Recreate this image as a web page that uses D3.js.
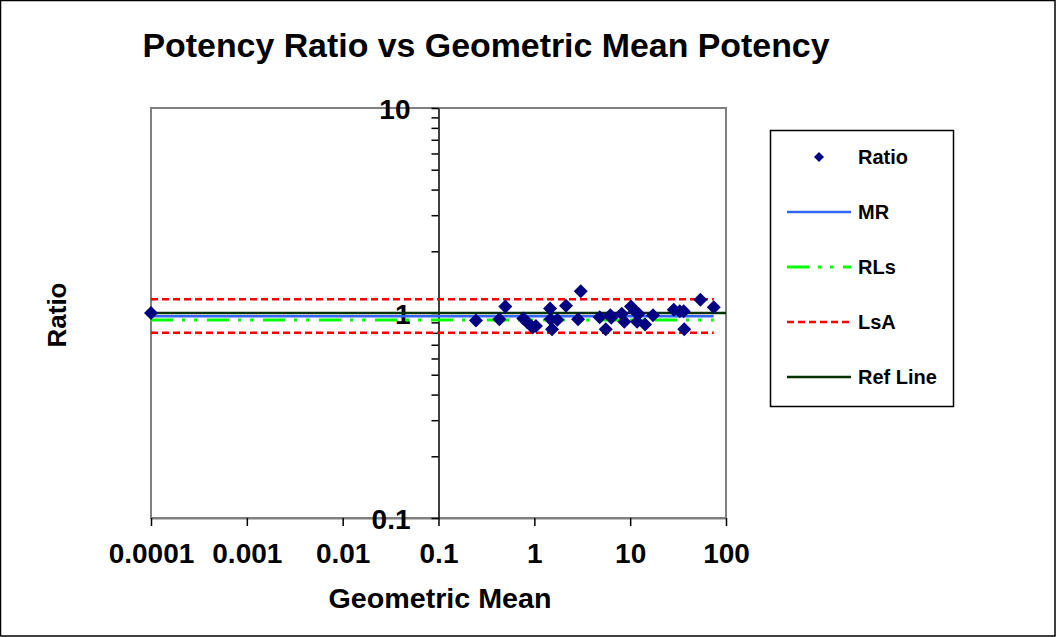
<!DOCTYPE html>
<html>
<head>
<meta charset="utf-8">
<script src="https://d3js.org/d3.v7.min.js"></script>
<style>
  body { margin: 0; background: #fff; }
  svg text { font-family: "Liberation Sans", Arial, sans-serif; font-weight: bold; fill: #000; }
</style>
</head>
<body>
<div id="chart"></div>
<script>

// values
var geoMean = [0.0001, 0.246, 0.432, 0.498, 0.767, 0.832, 0.96, 1.04, 1.46, 1.48, 1.53, 1.74, 2.14, 2.86, 3.05,
  4.81, 5.56, 6.21, 6.35, 8.17, 8.69, 10.2, 11.2, 11.8, 12.2, 14.3, 17.3, 28.5, 32.9, 36.2, 36.7, 54.0, 74.5];
var ratio = [1.0, 0.919, 0.933, 1.075, 0.940, 0.906, 0.85, 0.864, 1.052, 0.933, 0.834, 0.927, 1.084, 0.933, 1.277,
  0.954, 0.834, 0.976, 0.947, 0.991, 0.906, 1.075, 1.020, 0.906, 0.991, 0.879, 0.976, 1.036, 1.020, 1.020, 0.834, 1.159, 1.067];

var lineX = [0.0001, 74.5];
var refX = [0.0001, 100];
var mrValue = 0.965;
var rlsValue = 0.925;
var lsaUpper = 1.167;
var lsaLower = 0.80;
var refValue = 1;

var xTicks = [0.0001, 0.001, 0.01, 0.1, 1, 10, 100];
var xTickLabels = ["0.0001", "0.001", "0.01", "0.1", "1", "10", "100"];
var yMajor = [0.1, 1, 10];
var yTickLabels = ["0.1", "1", "10"];
var yMinor = [0.2, 0.3, 0.4, 0.5, 0.6, 0.7, 0.8, 0.9, 2, 3, 4, 5, 6, 7, 8, 9];

var legendNames = ["Ratio", "MR", "RLs", "LsA", "Ref Line"];

var width = 1056, height = 637;

var svg = d3.select("#chart").append("svg")
  .attr("width", width)
  .attr("height", height);

// outer border
svg.append("rect")
  .attr("x", 0.5).attr("y", 0.5)
  .attr("width", width - 1.5).attr("height", height - 1.5)
  .attr("fill", "#fff")
  .attr("stroke", "#000")
  .attr("stroke-width", 1.5);

var x = d3.scaleLog().domain([0.0001, 100]).range([151, 726]);
var y = d3.scaleLog().domain([0.1, 10]).range([518, 108]);

// plot frame
svg.append("rect")
  .attr("x", x(0.0001)).attr("y", y(10))
  .attr("width", x(100) - x(0.0001)).attr("height", y(0.1) - y(10))
  .attr("fill", "none")
  .attr("stroke", "#808080")
  .attr("stroke-width", 2);

// x axis along the bottom
var xAxis = d3.axisBottom(x)
  .tickValues(xTicks)
  .tickSize(8)
  .tickSizeOuter(0)
  .tickPadding(17)
  .tickFormat(function (d, i) { return xTickLabels[i]; });

var gx = svg.append("g")
  .attr("transform", "translate(0," + y(0.1) + ")")
  .call(xAxis);
gx.select(".domain").attr("stroke", "#808080").attr("stroke-width", 2);
gx.selectAll(".tick line").attr("stroke", "#000").attr("stroke-width", 1.5);
gx.selectAll(".tick text").style("font-size", "28px").attr("fill", "#000");

// y axis crosses at x = 0.1
var yAxis = d3.axisLeft(y)
  .tickValues(yMajor.concat(yMinor))
  .tickSize(7)
  .tickSizeOuter(0)
  .tickPadding(21)
  .tickFormat(function (d) {
    var k = yMajor.indexOf(d);
    return k > -1 ? yTickLabels[k] : "";
  });

var gy = svg.append("g")
  .attr("transform", "translate(" + x(0.1) + ",0)")
  .call(yAxis);
gy.select(".domain").attr("stroke", "#000").attr("stroke-width", 1.5);
gy.selectAll(".tick line").attr("stroke", "#000").attr("stroke-width", 1.5);
gy.selectAll(".tick text").style("font-size", "28px").attr("fill", "#000").attr("dy", "0.36em");

// horizontal reference lines
var line = d3.line()
  .x(function (d) { return x(d[0]); })
  .y(function (d) { return y(d[1]); });

function hLine(xs, value, colour, w, dash) {
  var p = svg.append("path")
    .datum(xs.map(function (v) { return [v, value]; }))
    .attr("d", line)
    .attr("fill", "none")
    .attr("stroke", colour)
    .attr("stroke-width", w);
  if (dash) p.attr("stroke-dasharray", dash);
  return p;
}

hLine(lineX, lsaUpper, "#FF0000", 2.5, "7,4");
hLine(lineX, lsaLower, "#FF0000", 2.5, "7,4");
hLine(lineX, rlsValue, "#00FF00", 3, "22,9,3,9,3,10");
hLine(lineX, mrValue, "#3366FF", 2.5);
hLine(refX, refValue, "#003300", 2.5);

// points
function diamond(r) {
  return "M0," + (-r) + "L" + r + ",0L0," + r + "L" + (-r) + ",0Z";
}

svg.append("g").selectAll("path")
  .data(geoMean)
  .enter().append("path")
  .attr("d", diamond(7))
  .attr("transform", function (d, i) { return "translate(" + x(d) + "," + y(ratio[i]) + ")"; })
  .attr("fill", "#000080");

// titles (the original fonts are narrow, so fit them to the widths seen)
svg.append("text")
  .attr("x", 486).attr("y", 57)
  .attr("text-anchor", "middle")
  .attr("textLength", 687)
  .attr("lengthAdjust", "spacingAndGlyphs")
  .style("font-size", "33px")
  .text("Potency Ratio vs Geometric Mean Potency");

svg.append("text")
  .attr("x", 440).attr("y", 608)
  .attr("text-anchor", "middle")
  .attr("textLength", 223)
  .attr("lengthAdjust", "spacingAndGlyphs")
  .style("font-size", "28px")
  .text("Geometric Mean");

svg.append("text")
  .attr("transform", "translate(66,315) rotate(-90)")
  .attr("text-anchor", "middle")
  .style("font-size", "26px")
  .text("Ratio");

// legend
var legend = svg.append("g");
legend.append("rect")
  .attr("x", 770.5).attr("y", 130.5)
  .attr("width", 183).attr("height", 276)
  .attr("fill", "#fff")
  .attr("stroke", "#000")
  .attr("stroke-width", 1.5);

var legendStyles = [
  { colour: "#000080" },
  { colour: "#3366FF", w: 2.5 },
  { colour: "#00FF00", w: 3, dash: "22,9,3,9,3,10" },
  { colour: "#FF0000", w: 2.5, dash: "7,4" },
  { colour: "#003300", w: 2.5 }
];

legendNames.forEach(function (name, i) {
  var cy = 157 + i * 55;
  var st = legendStyles[i];
  if (i === 0) {
    legend.append("path")
      .attr("d", diamond(5))
      .attr("transform", "translate(819," + cy + ")")
      .attr("fill", st.colour);
  } else {
    var l = legend.append("line")
      .attr("x1", 787).attr("x2", 851)
      .attr("y1", cy).attr("y2", cy)
      .attr("stroke", st.colour)
      .attr("stroke-width", st.w);
    if (st.dash) l.attr("stroke-dasharray", st.dash);
  }
  legend.append("text")
    .attr("x", 858).attr("y", cy + 7)
    .style("font-size", "20px")
    .text(name);
});

</script>
</body>
</html>
